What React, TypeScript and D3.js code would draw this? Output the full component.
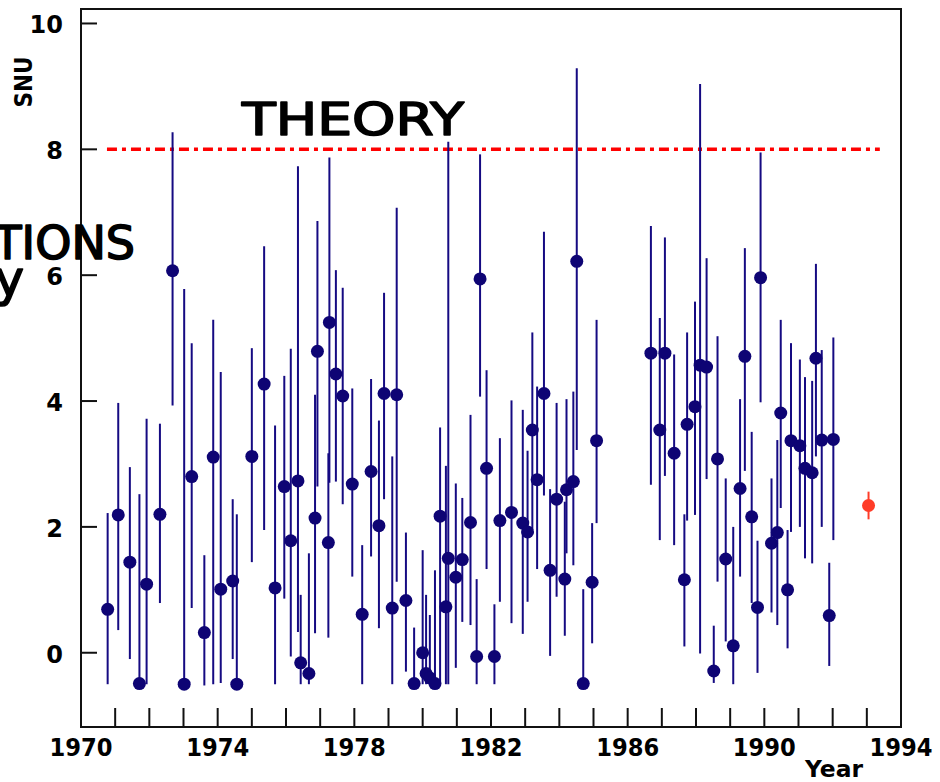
import * as React from 'react';
import * as d3 from 'd3';

// Homestake chlorine runs: year, SNU, lower / upper end of error bar
const runYear = [
  1970.78, 1971.09, 1971.43, 1971.71, 1971.92, 1972.31, 1972.68, 1973.02, 1973.24, 1973.61,
  1973.87, 1974.09, 1974.44, 1974.56, 1975.0, 1975.36, 1975.68, 1975.95, 1976.14, 1976.35,
  1976.43, 1976.67, 1976.85, 1976.92, 1977.24, 1977.27, 1977.46, 1977.66, 1977.94, 1978.23,
  1978.49, 1978.72, 1978.87, 1979.11, 1979.24, 1979.51, 1979.75, 1980.0, 1980.1, 1980.21,
  1980.36, 1980.51, 1980.68, 1980.75, 1980.97, 1981.16, 1981.4, 1981.58, 1981.68, 1981.87,
  1982.1, 1982.26, 1982.6, 1982.93, 1983.07, 1983.21, 1983.35, 1983.55, 1983.73, 1983.92,
  1984.16, 1984.21, 1984.41, 1984.51, 1984.7, 1984.96, 1985.09,
  1986.68, 1986.94, 1987.09, 1987.36, 1987.66, 1987.74, 1987.97, 1988.12, 1988.31, 1988.52,
  1988.63, 1988.87, 1989.09, 1989.29, 1989.43, 1989.63, 1989.8, 1989.89, 1990.21, 1990.38,
  1990.48, 1990.68, 1990.78, 1991.04, 1991.19, 1991.4, 1991.51, 1991.68, 1991.9, 1992.02,
];
const runSnu = [
  0.69, 2.19, 1.44, -0.49, 1.09, 2.2, 6.07, -0.5, 2.8, 0.32,
  3.11, 1.01, 1.14, -0.5, 3.12, 4.27, 1.03, 2.64, 1.78, 2.73,
  -0.16, -0.33, 2.14, 4.79, 1.75, 5.25, 4.43, 4.08, 2.68, 0.61,
  2.88, 2.02, 4.12, 0.71, 4.1, 0.83, -0.49, 0.0, -0.33, -0.4,
  -0.49, 2.17, 0.73, 1.5, 1.2, 1.48, 2.07, -0.06, 5.94, 2.93,
  -0.06, 2.1, 2.23, 2.06, 1.92, 3.54, 2.75, 4.12, 1.31, 2.44,
  1.17, 2.59, 2.72, 6.22, -0.49, 1.12, 3.37,
  4.76, 3.54, 4.76, 3.17, 1.16, 3.63, 3.91, 4.57, 4.54, -0.29,
  3.08, 1.49, 0.11, 2.61, 4.71, 2.16, 0.72, 5.96, 1.74, 1.91,
  3.81, 1.0, 3.37, 3.29, 2.93, 2.86, 4.68, 3.38, 0.59, 3.39,
];
const runLow = [
  -0.5, 0.36, -0.1, -0.5, -0.5, 0.79, 3.93, -0.5, 0.71, -0.52,
  -0.5, -0.48, -0.1, -0.5, 1.44, 1.95, -0.5, 0.86, -0.06, 0.33,
  -0.5, -0.5, 0.31, 2.64, 0.24, 2.7, 2.72, 2.36, 1.21, -0.5,
  1.53, 0.39, 2.44, -0.5, 1.13, -0.3, -0.5, -0.5, -0.5, -0.5,
  -0.5, -0.48, -0.5, -0.5, -0.24, 0.49, 0.44, -0.5, 4.07, 1.33,
  -0.5, 0.81, 0.47, 0.3, 0.81, 1.95, 1.33, 2.5, -0.05, 0.89,
  0.27, 1.58, 1.39, 3.22, -0.5, 0.15, 2.06,
  2.67, 1.79, 2.81, 1.71, 0.1, 2.1, 2.19, -0.01, 2.76, -0.48,
  1.13, 0.18, -0.5, 1.21, 2.89, 0.79, -0.32, 3.98, 0.64, 0.44,
  2.3, 0.07, 1.92, 2.0, 1.5, 1.42, 3.12, 2.0, -0.21, 1.79,
];
const runHigh = [
  2.22, 3.97, 2.95, 2.52, 3.72, 3.64, 8.27, 5.78, 4.92, 1.55,
  5.29, 4.46, 2.44, 2.2, 4.84, 6.46, 3.61, 4.4, 4.83, 7.73,
  0.92, 1.58, 4.1, 6.86, 3.17, 7.87, 6.08, 5.8, 4.2, 1.71,
  4.35, 3.69, 5.72, 3.12, 7.07, 1.91, 0.4, 1.63, 0.92, 0.6,
  1.31, 3.58, 2.97, 8.12, 2.69, 2.46, 3.78, 1.17, 7.92, 4.49,
  0.77, 3.41, 4.01, 3.86, 3.21, 5.09, 4.23, 6.69, 2.6, 3.97,
  2.4, 4.03, 4.15, 9.29, 1.01, 2.06, 5.29,
  6.78, 5.32, 6.6, 4.74, 2.2, 5.09, 5.58, 9.04, 6.27, 0.43,
  5.03, 2.77, 2.0, 4.03, 6.43, 3.51, 1.78, 7.95, 2.77, 3.38,
  5.29, 1.95, 4.92, 4.66, 4.38, 4.32, 6.18, 4.81, 1.43, 5.01,
];

// combined average (red point)
const avgYear = [1993.05];
const avgSnu = [2.34];
const avgLow = [2.12];
const avgHigh = [2.56];

// theory prediction
const theorySnu = 8;
const theoryFrom = 1970.76;
const theoryTo = 1993.38;

const yTickValues = [0, 2, 4, 6, 8, 10];
const xLabelYears = [1970, 1974, 1978, 1982, 1986, 1990, 1994];

const FONT = "'DejaVu Sans', sans-serif";
const BLUE = '#150a82';

export default function App() {
  const ref = React.useRef<SVGSVGElement>(null);

  React.useEffect(() => {
    const svg = d3.select(ref.current);
    svg.selectAll('*').remove();

    const x = d3.scaleLinear().domain([1970, 1994]).range([81, 901]);
    const y = d3.scaleLinear().domain([-1.18, 10.23]).range([727, 9]);

    // frame
    svg.append('rect')
      .attr('x', x(1970)).attr('y', y(10.23))
      .attr('width', x(1994) - x(1970)).attr('height', y(-1.18) - y(10.23))
      .attr('fill', 'none').attr('stroke', '#111').attr('stroke-width', 2);

    // x ticks, one per year, pointing up from the bottom
    svg.append('g').selectAll('line')
      .data(x.ticks(24))
      .enter().append('line')
      .attr('x1', d => x(d)).attr('x2', d => x(d))
      .attr('y1', 727).attr('y2', 708)
      .attr('stroke', '#111').attr('stroke-width', 2);

    svg.append('g').selectAll('text')
      .data(xLabelYears)
      .enter().append('text')
      .attr('x', d => x(d)).attr('y', 756)
      .attr('text-anchor', 'middle')
      .attr('textLength', 63).attr('lengthAdjust', 'spacingAndGlyphs')
      .style('font-family', FONT).style('font-weight', 'bold').style('font-size', '24px')
      .text(d => d);

    // y ticks
    svg.append('g').selectAll('line')
      .data(yTickValues)
      .enter().append('line')
      .attr('x1', 81).attr('x2', 97)
      .attr('y1', d => y(d)).attr('y2', d => y(d))
      .attr('stroke', '#111').attr('stroke-width', 2);

    svg.append('g').selectAll('text')
      .data(yTickValues)
      .enter().append('text')
      .attr('x', 63).attr('y', d => y(d) + 10)
      .attr('text-anchor', 'end')
      .style('font-family', FONT).style('font-weight', 'bold').style('font-size', '24px')
      .text(d => d);

    svg.append('text')
      .attr('transform', 'translate(32,82) rotate(-90)')
      .attr('text-anchor', 'middle')
      .attr('textLength', 51).attr('lengthAdjust', 'spacingAndGlyphs')
      .style('font-family', FONT).style('font-weight', 'bold').style('font-size', '24px')
      .text('SNU');

    svg.append('text')
      .attr('x', 863).attr('y', 777)
      .attr('text-anchor', 'end')
      .attr('textLength', 58).attr('lengthAdjust', 'spacingAndGlyphs')
      .style('font-family', FONT).style('font-weight', 'bold').style('font-size', '23px')
      .text('Year');

    // theory line
    svg.append('line')
      .attr('x1', x(theoryFrom)).attr('x2', x(theoryTo))
      .attr('y1', y(theorySnu)).attr('y2', y(theorySnu))
      .attr('stroke', '#ff0000').attr('stroke-width', 3.5)
      .attr('stroke-dasharray', '10,5,4,5');

    const runs = runYear.map((yr, i) => ({ yr, v: runSnu[i], lo: runLow[i], hi: runHigh[i] }));

    const g = svg.append('g');
    g.selectAll('line')
      .data(runs)
      .enter().append('line')
      .attr('x1', d => x(d.yr)).attr('x2', d => x(d.yr))
      .attr('y1', d => y(d.hi)).attr('y2', d => y(d.lo))
      .attr('stroke', BLUE).attr('stroke-width', 2);
    g.selectAll('circle')
      .data(runs)
      .enter().append('circle')
      .attr('cx', d => x(d.yr)).attr('cy', d => y(d.v))
      .attr('r', 6.5)
      .attr('fill', '#0e0474');

    const avg = avgYear.map((yr, i) => ({ yr, v: avgSnu[i], lo: avgLow[i], hi: avgHigh[i] }));
    const a = svg.append('g');
    a.selectAll('line')
      .data(avg)
      .enter().append('line')
      .attr('x1', d => x(d.yr)).attr('x2', d => x(d.yr))
      .attr('y1', d => y(d.hi)).attr('y2', d => y(d.lo))
      .attr('stroke', '#ff3c28').attr('stroke-width', 2);
    a.selectAll('circle')
      .data(avg)
      .enter().append('circle')
      .attr('cx', d => x(d.yr)).attr('cy', d => y(d.v))
      .attr('r', 6.5)
      .attr('fill', '#ff3c28');

    // handwritten notes (marker pen look: thin font + round stroke)
    const hand = (t: string, px: number, py: number, size: number, len: number | null, anchor: string) => {
      const el = svg.append('text')
        .attr('x', px).attr('y', py)
        .attr('text-anchor', anchor)
        .attr('fill', '#000').attr('stroke', '#000')
        .attr('stroke-width', 1.6).attr('stroke-linejoin', 'round')
        .style('font-family', FONT).style('font-size', `${size}px`)
        .text(t);
      if (len) el.attr('textLength', len).attr('lengthAdjust', 'spacingAndGlyphs');
    };
    hand('THEORY', 242, 135, 44, 222, 'start');
    hand('OBSERVATIONS', 135, 259, 46, null, 'end');
    hand('y', 24, 296, 50, null, 'end');
  }, []);

  return (
    <svg
      ref={ref}
      width={940}
      height={782}
      style={{ position: 'absolute', left: 0, top: 0, background: '#fff' }}
    />
  );
}
